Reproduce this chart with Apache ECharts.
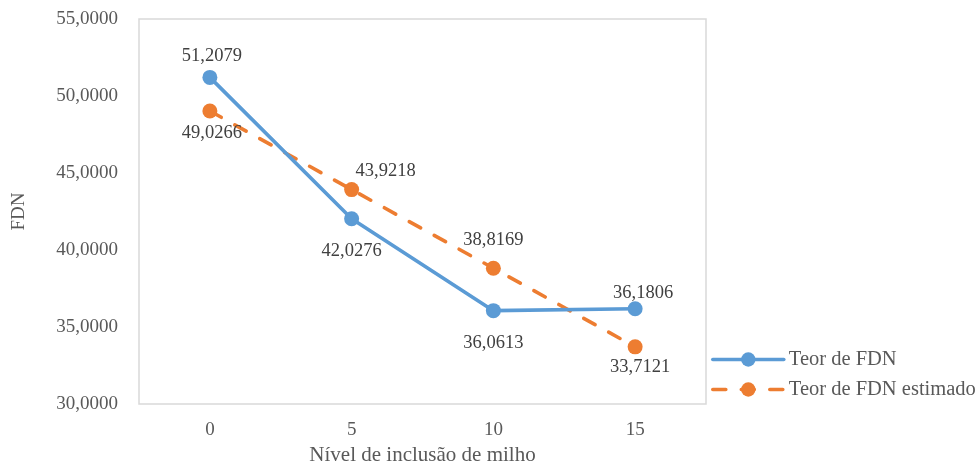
<!DOCTYPE html>
<html>
<head>
<meta charset="utf-8">
<script src="https://cdn.jsdelivr.net/npm/echarts@6/dist/echarts.min.js"></script>
<style>
  html, body { margin: 0; padding: 0; background: #fff; }
  #chart { width: 977px; height: 462px; }
</style>
</head>
<body>
<div id="chart"></div>
<script>
// Inclusion levels of corn (x axis) and NDF content (FDN)
const categories = ['0', '5', '10', '15'];
const teorFDN = [51.2079, 42.0276, 36.0613, 36.1806];
const teorFDNEstimado = [49.0266, 43.9218, 38.8169, 33.7121];
const yTicks = { min: 30, max: 55, interval: 5 };

const FONT = 'Liberation Serif';
const TEXT = '#595959';
const BLUE = '#5B9BD5';
const ORANGE = '#ED7D31';

// label placement around each marker (centre offset in px)
const blueLabelOffsets = [[2, -21], [0, 32], [0, 32], [8, -16]];
const orangeLabelOffsets = [[2, 22], [34, -18], [0, -28], [5, 20]];

const fmt = v => v.toFixed(4).replace('.', ',');

function points(values, offsets) {
  return values.map((v, i) => ({
    value: v,
    label: { offset: offsets[i] }
  }));
}

const labelStyle = {
  show: true,
  position: 'inside',
  color: '#404040',
  fontFamily: FONT,
  fontSize: 18.5,
  formatter: p => fmt(p.value)
};

const chart = echarts.init(document.getElementById('chart'), null, { renderer: 'canvas' });
chart.setOption({
  animation: false,
  backgroundColor: '#fff',
  grid: {
    left: 139, right: 271, top: 19, bottom: 58,
    outerBoundsMode: 'none',
    containLabel: false,
    show: true, borderColor: '#d9d9d9', borderWidth: 1.5
  },
  legend: {
    orient: 'vertical',
    left: 711, top: 349,
    padding: 0,
    itemWidth: 71, itemHeight: 18, itemGap: 9,
    lineStyle: { width: 3.6, cap: 'round' },
    textStyle: { fontFamily: FONT, fontSize: 20.5, color: TEXT },
    data: ['Teor de FDN', 'Teor de FDN estimado']
  },
  xAxis: {
    type: 'category',
    data: categories,
    boundaryGap: true,
    axisLine: { show: false },
    axisTick: { show: false },
    axisLabel: { fontFamily: FONT, fontSize: 19, color: TEXT, margin: 17 },
    name: 'Nível de inclusão de milho',
    nameLocation: 'middle',
    nameGap: 40,
    nameTextStyle: { fontFamily: FONT, fontSize: 21, color: TEXT }
  },
  yAxis: {
    type: 'value',
    min: yTicks.min, max: yTicks.max, interval: yTicks.interval,
    axisLine: { show: false },
    axisTick: { show: false },
    splitLine: { show: false },
    axisLabel: {
      fontFamily: FONT, fontSize: 19, color: TEXT, margin: 21,
      formatter: v => fmt(v)
    },
    name: 'FDN',
    nameLocation: 'middle',
    nameGap: 110,
    nameRotate: 90,
    nameTextStyle: { fontFamily: FONT, fontSize: 19, color: TEXT }
  },
  series: [
    {
      name: 'Teor de FDN',
      type: 'line',
      data: points(teorFDN, blueLabelOffsets),
      symbol: 'circle',
      symbolSize: 15,
      lineStyle: { color: BLUE, width: 3.6, cap: 'round' },
      itemStyle: { color: BLUE },
      label: labelStyle,
      z: 3
    },
    {
      name: 'Teor de FDN estimado',
      type: 'line',
      data: points(teorFDNEstimado, orangeLabelOffsets),
      symbol: 'circle',
      symbolSize: 15,
      lineStyle: { color: ORANGE, width: 3.6, type: [13, 15.5], cap: 'round' },
      itemStyle: { color: ORANGE },
      label: labelStyle,
      z: 2
    }
  ]
});
</script>
</body>
</html>
